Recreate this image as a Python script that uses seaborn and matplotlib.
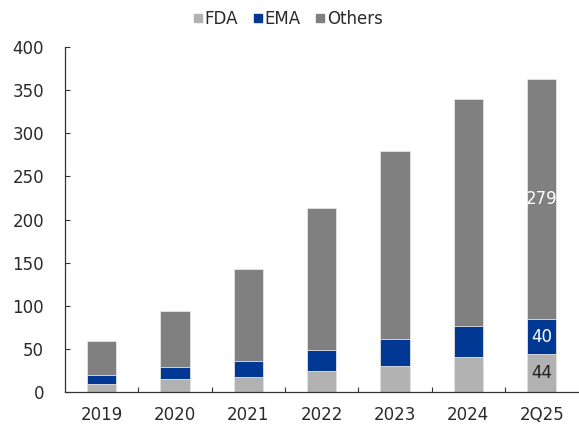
import numpy as np
import pandas as pd
import matplotlib
matplotlib.use("Agg")
import matplotlib.pyplot as plt
from matplotlib.lines import Line2D
import seaborn as sns

# Data
periods = ["2019", "2020", "2021", "2022", "2023", "2024", "2Q25"]
fda = [9, 15, 17, 24, 30, 41, 44]
ema = [11, 14, 19, 25, 31, 36, 40]
others = [39, 65, 107, 164, 219, 263, 279]

colors = {"FDA": "#b2b2b2", "EMA": "#003893", "Others": "#808080"}

df = pd.DataFrame({"period": periods, "FDA": fda, "EMA": ema, "Others": others})
df["fda_top"] = df["FDA"]
df["ema_top"] = df["FDA"] + df["EMA"]
df["total"] = df["ema_top"] + df["Others"]

sns.set_style("white")
plt.rcParams["font.family"] = ["DejaVu Sans"]

fig, ax = plt.subplots(figsize=(5.79, 4.25), dpi=100)
fig.subplots_adjust(left=0.112, right=0.999, top=0.889, bottom=0.078)

# stacked bars: draw cumulative tops from tallest to shortest
for col, name in [("total", "Others"), ("ema_top", "EMA"), ("fda_top", "FDA")]:
    sns.barplot(data=df, x="period", y=col, color=colors[name], width=0.4,
                saturation=1, edgecolor="#e6e6e6", linewidth=0.6, ax=ax)

# value labels on the last bar
last = len(periods) - 1
ax.text(last, fda[-1] / 2, str(fda[-1]), ha="center", va="center", fontsize=12, color="#222222")
ax.text(last, fda[-1] + ema[-1] / 2, str(ema[-1]), ha="center", va="center", fontsize=12, color="white")
ax.text(last, fda[-1] + ema[-1] + others[-1] / 2, str(others[-1]), ha="center", va="center",
        fontsize=12, color="white")

ax.set_ylim(0, 400)
ax.set_xlim(-0.5, len(periods) - 0.5)
ax.set_yticks(np.arange(0, 401, 50))
ax.set_xlabel("")
ax.set_ylabel("")
for s in ["top", "right"]:
    ax.spines[s].set_visible(False)
for s in ["left", "bottom"]:
    ax.spines[s].set_color("#333333")
    ax.spines[s].set_linewidth(0.9)

ax.tick_params(axis="y", which="major", left=True, direction="in", length=3.5, width=0.8,
               color="#333333", labelsize=12, labelcolor="#2a2a2a", pad=15)
ax.tick_params(axis="x", which="major", bottom=False, labelsize=12, labelcolor="#2a2a2a", pad=6.5)
ax.set_xticks(np.arange(0.5, len(periods) - 1, 1), minor=True)
ax.tick_params(axis="x", which="minor", bottom=True, direction="in", length=3.5, width=0.8,
               color="#333333")

handles = [Line2D([0], [0], marker="s", linestyle="", markersize=5.5,
                  markerfacecolor=colors[n], markeredgecolor=colors[n]) for n in ["FDA", "EMA", "Others"]]
fig.legend(handles, ["FDA", "EMA", "Others"], loc="upper center", bbox_to_anchor=(0.497, 1.012),
           ncol=3, frameon=False, fontsize=12, handlelength=0.6, handletextpad=0.1,
           columnspacing=0.9, labelcolor="#2a2a2a")

plt.savefig("out.png", dpi=100)
plt.close()
